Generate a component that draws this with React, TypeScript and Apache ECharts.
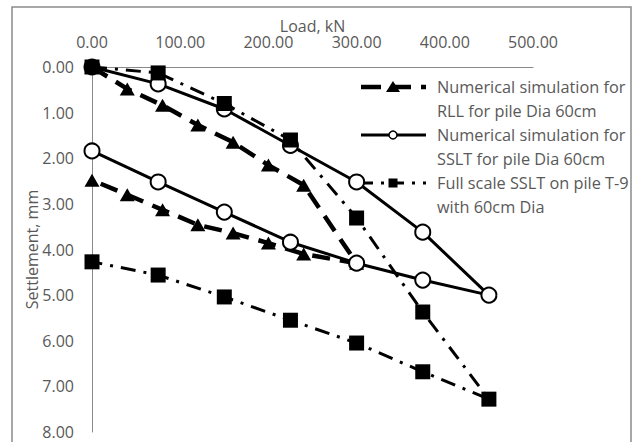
import React, { useEffect, useRef } from "react";
import * as echarts from "echarts";

// Load steps (kN) and measured/computed settlements (mm), loading then unloading
const rllLoad = [0, 40, 80, 120, 160, 200, 240, 300, 240, 200, 160, 120, 80, 40, 0];
const rllSettlement = [0, 0.48, 0.84, 1.27, 1.65, 2.15, 2.59, 4.3, 4.1, 3.86, 3.64, 3.46, 3.13, 2.8, 2.48];

const ssltLoad = [0, 75, 150, 225, 300, 375, 450, 375, 300, 225, 150, 75, 0];
const ssltNumSettlement = [0, 0.37, 0.92, 1.72, 2.52, 3.62, 5.0, 4.67, 4.3, 3.84, 3.18, 2.52, 1.84];
const ssltFieldSettlement = [0, 0.13, 0.8, 1.6, 3.31, 5.37, 7.28, 6.68, 6.05, 5.55, 5.04, 4.56, 4.27];

const seriesNames = [
  "Numerical simulation for\nRLL for pile Dia 60cm",
  "Numerical simulation for\nSSLT for pile Dia 60cm",
  "Full scale SSLT on pile T-9\nwith 60cm Dia",
];

const FONT = "'Open Sans', sans-serif";
const TEXT = "#595959";
const AXIS = "#8a8a8a";

const pair = (xs: number[], ys: number[]) => xs.map((x, i) => [x, ys[i]]);

const rllDash = [18, 10];
const fieldDash = [15, 8, 3, 8];

function legendItem(y: number, label: string, kind: "tri" | "circle" | "square") {
  const lineStyle: any =
    kind === "tri"
      ? { stroke: "#000", lineWidth: 4.5, lineDash: [20, 10] }
      : kind === "circle"
      ? { stroke: "#000", lineWidth: 3 }
      : { stroke: "#000", lineWidth: 3, lineDash: [12, 8, 3, 8] };
  const mx = 393;
  let marker: any;
  if (kind === "tri") {
    marker = {
      type: "polygon",
      shape: { points: [[mx, y - 6], [mx + 7, y + 5], [mx - 7, y + 5]] },
      style: { fill: "#000" },
    };
  } else if (kind === "circle") {
    marker = {
      type: "circle",
      shape: { cx: mx, cy: y, r: 4 },
      style: { fill: "#fff", stroke: "#000", lineWidth: 1.5 },
    };
  } else {
    marker = {
      type: "rect",
      shape: { x: mx - 4.5, y: y - 4.5, width: 9, height: 9 },
      style: { fill: "#000" },
    };
  }
  return [
    { type: "line", shape: { x1: 361, y1: y, x2: 426, y2: y }, style: lineStyle },
    marker,
    {
      type: "text",
      x: 437,
      y: y - 12,
      style: {
        text: label,
        font: `16.3px ${FONT}`,
        fill: TEXT,
        lineHeight: 24,
        verticalAlign: "top",
        align: "left",
      },
    },
  ];
}

export default function App() {
  const ref = useRef<HTMLDivElement>(null);

  useEffect(() => {
    if (!ref.current) return;
    const chart = echarts.init(ref.current, null, { renderer: "svg" });
    chart.setOption({
      animation: false,
      backgroundColor: "#fff",
      textStyle: { fontFamily: FONT },
      grid: { left: 92, top: 67, width: 441, height: 365, containLabel: false },
      xAxis: {
        type: "value",
        position: "top",
        min: 0,
        max: 500,
        interval: 100,
        name: "Load, kN",
        nameLocation: "middle",
        nameGap: 33,
        nameMoveOverlap: false,
        nameTextStyle: { color: TEXT, fontSize: 16, fontFamily: FONT },
        axisLine: { show: true, onZero: false, lineStyle: { color: AXIS, width: 1 } },
        axisTick: { show: false },
        splitLine: { show: false },
        axisLabel: {
          color: TEXT,
          fontSize: 16,
          fontFamily: FONT,
          margin: 17,
          formatter: (v: number) => v.toFixed(2),
        },
      },
      yAxis: {
        type: "value",
        inverse: true,
        min: 0,
        max: 8,
        interval: 1,
        name: "Settlement, mm",
        nameLocation: "middle",
        nameGap: 52,
        nameMoveOverlap: false,
        nameTextStyle: { color: TEXT, fontSize: 16, fontFamily: FONT },
        axisLine: { show: true, onZero: false, lineStyle: { color: AXIS, width: 1 } },
        axisTick: { show: false },
        splitLine: { show: false },
        axisLabel: {
          color: TEXT,
          fontSize: 16,
          fontFamily: FONT,
          margin: 18,
          formatter: (v: number) => v.toFixed(2),
        },
      },
      series: [
        {
          name: seriesNames[0],
          type: "line",
          data: pair(rllLoad, rllSettlement),
          symbol: "triangle",
          symbolSize: [15, 13],
          itemStyle: { color: "#000" },
          lineStyle: { color: "#000", width: 4.5, type: rllDash },
          z: 2,
        },
        {
          name: seriesNames[1],
          type: "line",
          data: pair(ssltLoad, ssltNumSettlement),
          symbol: "emptyCircle",
          symbolSize: 15,
          itemStyle: { color: "#000", borderWidth: 2 },
          lineStyle: { color: "#000", width: 3 },
          z: 3,
        },
        {
          name: seriesNames[2],
          type: "line",
          data: pair(ssltLoad, ssltFieldSettlement),
          symbol: "rect",
          symbolSize: 15,
          itemStyle: { color: "#000" },
          lineStyle: { color: "#000", width: 3, type: fieldDash },
          z: 4,
        },
      ],
      graphic: [
        {
          type: "rect",
          shape: { x: 12, y: 7, width: 619, height: 450 },
          style: { fill: "none", stroke: "#8c8c8c", lineWidth: 1.5 },
          z: -1,
          silent: true,
        },
        ...legendItem(87, seriesNames[0], "tri"),
        ...legendItem(135, seriesNames[1], "circle"),
        ...legendItem(183, seriesNames[2], "square"),
      ],
    });
    return () => chart.dispose();
  }, []);

  return (
    <div
      ref={ref}
      style={{ position: "fixed", left: 0, top: 0, width: 635, height: 442, background: "#fff" }}
    />
  );
}
